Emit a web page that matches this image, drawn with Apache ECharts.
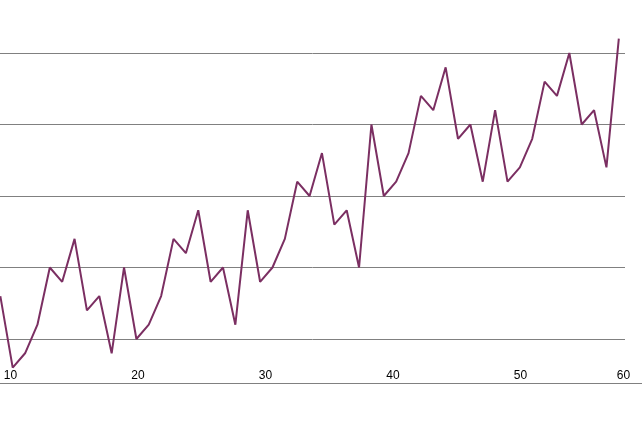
<!DOCTYPE html>
<html>
<head>
<meta charset="utf-8">
<script src="https://cdn.jsdelivr.net/npm/echarts@6/dist/echarts.min.js"></script>
<style>
html,body{margin:0;padding:0;background:#fff;}
#c{width:642px;height:433px;}
</style>
</head>
<body>
<div id="c"></div>
<script>
// x values (one point per step)
var xValues = [9,10,11,12,13,14,15,16,17,18,19,20,21,22,23,24,25,26,27,28,29,30,31,32,33,34,35,36,37,38,39,40,41,42,43,44,45,46,47,48,49,50,51,52,53,54,55,56,57,58,59];
// series values
var yValues = [13,8,9,11,15,14,17,12,13,9,15,10,11,13,17,16,19,14,15,11,19,14,15,17,21,20,23,18,19,15,25,20,21,23,27,26,29,24,25,21,26,21,22,24,28,27,30,25,26,22,31];
// tick labels of the x axis
var tickLabels = ['10','20','30','40','50','60'];
var tickValues = [10,20,30,40,50,60];

var seriesData = xValues.map(function(x,i){return [x, yValues[i]];});

function labelFor(v){
  var best = 0, bd = Infinity;
  for (var i=0;i<tickValues.length;i++){var d=Math.abs(tickValues[i]-v); if(d<bd){bd=d;best=i;}}
  if (bd > 1.5) return '';
  var t = tickLabels[best];
  if (v > 55) return '{e|' + t + '}';
  return t;
}

var chart = echarts.init(document.getElementById('c'), null, {renderer:'canvas'});
chart.setOption({
  animation:false,
  backgroundColor:'#ffffff',
  grid:[
    {left:0, right:17, top:53, bottom:49.7, containLabel:false},
    {left:0, right:0, top:53, bottom:49.7, containLabel:false}
  ],
  xAxis:[
    {type:'value', gridIndex:0, min:8.973, max:59.5,
     axisLine:{show:false}, axisTick:{show:false}, axisLabel:{show:false}, splitLine:{show:false}},
    {type:'value', gridIndex:1, min:9.176, max:59.53,
     axisLine:{show:true, lineStyle:{color:'#808080', width:1}},
     axisTick:{show:false}, splitLine:{show:false},
     axisLabel:{show:true, inside:true, margin:2, color:'#000', fontSize:12,
       fontFamily:'Liberation Sans, Arial, sans-serif',
       showMinLabel:false, showMaxLabel:true,
       formatter:labelFor,
       rich:{e:{padding:[0,37,0,0], color:'#000', fontSize:12, fontFamily:'Liberation Sans, Arial, sans-serif'}}}}
  ],
  yAxis:[
    {type:'value', gridIndex:0, min:6.9, max:30,
     axisLine:{show:false}, axisTick:{show:false}, axisLabel:{show:false},
     splitLine:{show:true, lineStyle:{color:'#808080', width:1}}},
    {type:'value', gridIndex:1, show:false, min:0, max:1, splitLine:{show:false}}
  ],
  series:[{
    type:'line', xAxisIndex:0, yAxisIndex:0,
    data:seriesData, showSymbol:false, symbol:'none', clip:false,
    lineStyle:{color:'#7B2F62', width:2}
  }]
});
</script>
</body>
</html>
